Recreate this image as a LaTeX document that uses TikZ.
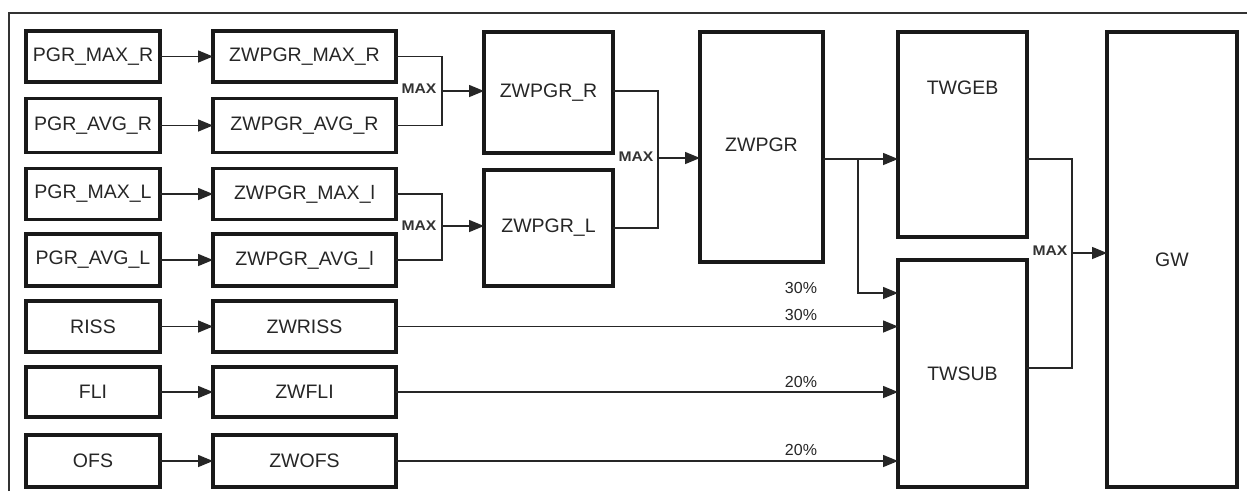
\documentclass[tikz,border=0pt]{standalone}
\usepackage{fontspec}
\setmainfont{Liberation Sans}
\usetikzlibrary{arrows.meta}
\begin{document}
\begin{tikzpicture}[x=1pt,y=-1pt,
  box/.style={draw=black!90,line width=3.6pt,rectangle,inner sep=0pt,outer sep=0pt,
    font=\fontsize{19.5}{22}\selectfont,text=black!85},
  sbox/.style={box,minimum width=134pt,minimum height=51pt},
  zbox/.style={box,minimum width=183pt,minimum height=51pt},
  conn/.style={draw=black!85,line width=1.5pt},
  arr/.style={conn,-{Triangle[length=15pt,width=12pt]}},
  maxlbl/.style={font=\fontsize{14}{16}\selectfont\bfseries,text=black!80,inner sep=0pt},
  pct/.style={font=\fontsize{16}{18}\selectfont,text=black!85,inner sep=0pt}]
\useasboundingbox (0,0) rectangle (1247,491);
\fill[white] (0,0) rectangle (1247,491);
\draw[line width=1.4pt,black!80] (9,491) -- (9,13) -- (1247,13);

% left column
\node[sbox] (pmr) at (93,56.5) {PGR\_MAX\_R};
\node[sbox,minimum height=54pt] (par) at (93,125.5) {PGR\_AVG\_R};
\node[sbox] (pml) at (93,194) {PGR\_MAX\_L};
\node[sbox,minimum height=52pt] (pal) at (93,260) {PGR\_AVG\_L};
\node[sbox] (riss) at (93,326.5) {RISS};
\node[sbox,minimum height=50pt] (fli) at (93,392) {FLI};
\node[sbox,minimum height=52pt] (ofs) at (93,461) {OFS};

% second column
\node[zbox] (zmr) at (304.5,56.5) {ZWPGR\_MAX\_R};
\node[zbox,minimum height=54pt] (zar) at (304.5,125.5) {ZWPGR\_AVG\_R};
\node[zbox] (zml) at (304.5,194) {ZWPGR\_MAX\_l};
\node[zbox,minimum height=52pt] (zal) at (304.5,260) {ZWPGR\_AVG\_l};
\node[zbox] (zriss) at (304.5,326.5) {ZWRISS};
\node[zbox,minimum height=50pt] (zfli) at (304.5,392) {ZWFLI};
\node[zbox,minimum height=52pt] (zofs) at (304.5,461) {ZWOFS};

% third column
\node[box,minimum width=129pt,minimum height=121pt] (zr) at (548.5,92.5) {ZWPGR\_R};
\node[box,minimum width=129pt,minimum height=116pt] (zl) at (548.5,228) {ZWPGR\_L};
\node[box,minimum width=123pt,minimum height=230pt] (zw) at (761.5,147) {};
\node[font=\fontsize{19.5}{22}\selectfont,text=black!85,inner sep=0pt] (zwt) at (761.5,145) {ZWPGR};
\node[box,minimum width=129pt,minimum height=205pt] (tg) at (962.5,134.5) {};
\node[font=\fontsize{19.5}{22}\selectfont,text=black!85,inner sep=0pt] (tgt) at (962.5,88) {TWGEB};
\node[box,minimum width=129pt,minimum height=227pt] (ts) at (962.5,373.5) {TWSUB};
\node[box,minimum width=130pt,minimum height=455pt] (gw) at (1172,259.5) {GW};

% row arrows
\foreach \a/\b in {pmr/zmr,par/zar,pml/zml,pal/zal,riss/zriss,fli/zfli,ofs/zofs}
  \draw[arr] (\a.east) -- (\b.west);

% MAX junction 1
\coordinate (j1) at (442,91);
\draw[conn] (zmr.east) -| (j1) |- (zar.east);
\draw[arr] (j1) -- (j1 -| zr.west);
\node[maxlbl] (m1) at (419,89) {\scalebox{1.12}[1]{MAX}};
% MAX junction 2
\coordinate (j2) at (442,226);
\draw[conn] (zml.east) -| (j2) |- (zal.east);
\draw[arr] (j2) -- (j2 -| zl.west);
\node[maxlbl] (m2) at (419,225.5) {\scalebox{1.12}[1]{MAX}};
% MAX junction 3
\coordinate (j3) at (658,158);
\draw[conn] (zr.east |- 0,91) -| (j3) |- (zl.east);
\draw[arr] (j3) -- (j3 -| zw.west);
\node[maxlbl] (m3) at (636,157) {\scalebox{1.12}[1]{MAX}};

% ZWPGR outputs
\coordinate (b) at (858,159);
\coordinate (b2) at (858,293);
\draw[arr] (b -| zw.east) -- (b -| tg.west);
\draw[arr] (b) -- (b2) -- (b2 -| ts.west);

% MAX junction 4
\coordinate (j4) at (1072,253);
\coordinate (c4) at (1072,368);
\draw[conn] (b -| tg.east) -| (c4) -- (c4 -| ts.east);
\draw[arr] (j4) -- (j4 -| gw.west);
\node[maxlbl] (m4) at (1050,251) {\scalebox{1.12}[1]{MAX}};

% lower inputs
\draw[arr] (zriss.east) -- (zriss.east -| ts.west);
\draw[arr] (zfli.east) -- (zfli.east -| ts.west);
\draw[arr] (zofs.east) -- (zofs.east -| ts.west);

\node[pct] (p1) at (801,288) {30\%};
\node[pct] (p2) at (801,315) {30\%};
\node[pct] (p3) at (801,382) {20\%};
\node[pct] (p4) at (801,450) {20\%};
\end{tikzpicture}
\end{document}
